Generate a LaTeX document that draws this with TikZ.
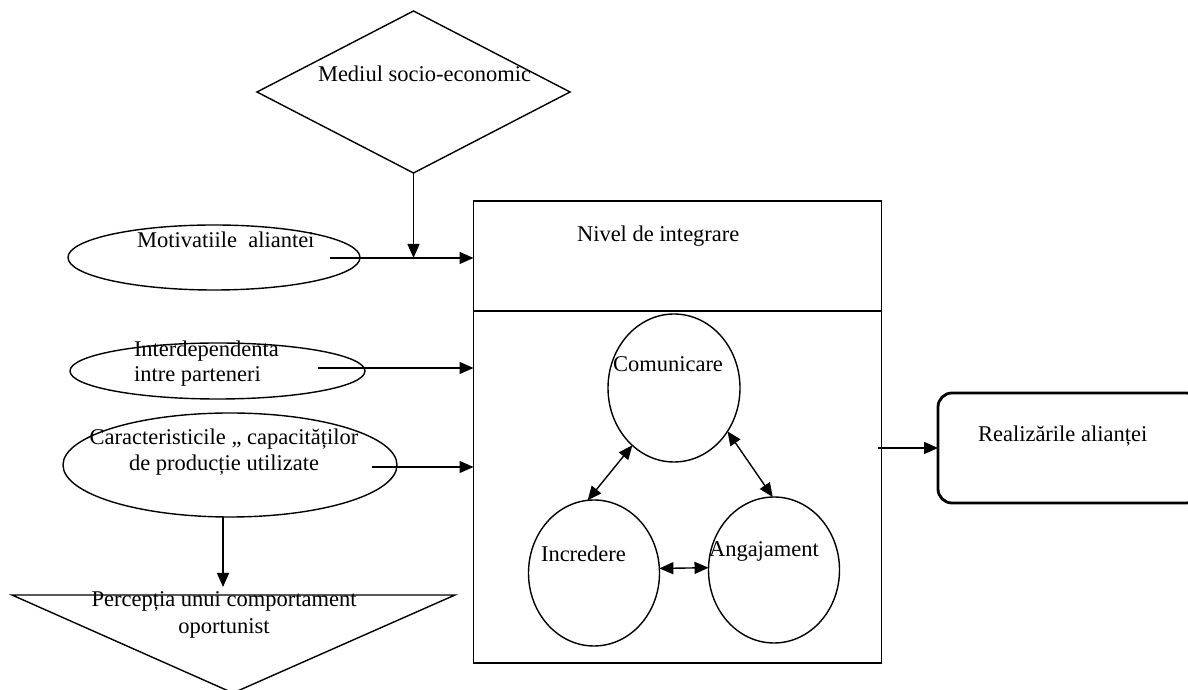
\documentclass[tikz,border=0pt]{standalone}
\usepackage{fontspec}
\setmainfont{Liberation Serif}
\usetikzlibrary{shapes.geometric,arrows.meta}
\begin{document}
\begin{tikzpicture}[x=1pt,y=1pt,
  every node/.style={inner sep=0pt,outer sep=0pt},
  lbl/.style={font=\fontsize{22.5}{27}\selectfont,anchor=base west},
  clbl/.style={font=\fontsize{22.5}{27}\selectfont,anchor=base},
  shp/.style={draw,line width=1.4pt},
  ell/.style={shp,ellipse},
  arr/.style={line width=1.4pt,-{Triangle[length=14pt,width=12pt]}},
  darr/.style={line width=1.4pt,{Triangle[length=14pt,width=12pt]}-{Triangle[length=14pt,width=12pt]}}]
\useasboundingbox (0,0) rectangle (1188,690);
% shapes
\node[shp,diamond,minimum width=313pt,minimum height=162pt] (diam) at (413.5,598) {};
\node[ell,minimum width=292pt,minimum height=65pt] (motiv) at (214,432.5) {};
\node[ell,minimum width=295pt,minimum height=56pt] (inter) at (217.5,319) {};
\node[ell,minimum width=334pt,minimum height=104pt] (carac) at (230,225) {};
\node[shp,rectangle,minimum width=408pt,minimum height=462pt] (box) at (677.5,258) {};
\coordinate (divL) at (473.5,379);
\coordinate (divR) at (881.5,379);
\draw[line width=1.4pt] (divL) -- (divR);
\node[ell,minimum width=132pt,minimum height=148pt] (com) at (674,302) {};
\node[ell,minimum width=131pt,minimum height=146pt] (inc) at (594,117) {};
\node[ell,minimum width=131pt,minimum height=146pt] (ang) at (774,120) {};
\node[draw,line width=2.8pt,rounded corners=14pt,minimum width=262pt,minimum height=110pt] (real) at (1069,242) {};
\coordinate (triL) at (12,95);
\coordinate (triR) at (455,95);
\coordinate (triB) at (233,-3);
\draw[line width=1.4pt] (triL) -- (triR) -- (triB) -- cycle;
% texts
\node[lbl] (tmed) at (318,608) {Mediul socio-economic};
\node[lbl] (tmot) at (137,442) {Motivatiile\ \ aliantei};
\node[lbl] (tint1) at (134,333) {Interdependenta};
\node[lbl] (tint2) at (134,308) {intre parteneri};
\node[clbl] (tcar1) at (224,245) {Caracteristicile ,, capacităților};
\node[clbl] (tcar2) at (224,219) {de producție utilizate};
\node[clbl] (tper1) at (224,83) {Percepția unui comportament};
\node[clbl] (tper2) at (224,56) {oportunist};
\node[lbl] (tniv) at (577,448) {Nivel de integrare};
\node[lbl] (tcom) at (613,318) {Comunicare};
\node[lbl] (tinc) at (541,128) {Incredere};
\node[lbl] (tang) at (709,133) {Angajament};
\node[lbl] (treal) at (978,248) {Realizările alianței};
% connectors
\coordinate (m1) at (330,432);
\coordinate (i1) at (318,322);
\coordinate (c1) at (372,223);
\coordinate (p1) at (223,103);
\coordinate (r1) at (878,242);
\draw[arr] (m1) -- (m1 -| box.west);
\draw[arr] (diam.south) -- (diam.south |- m1);
\draw[arr] (i1) -- (i1 -| box.west);
\draw[arr] (c1) -- (c1 -| box.west);
\draw[arr] (carac.south -| p1) -- (p1);
\draw[arr] (r1) -- (r1 -| real.west);
\draw[darr] (com.234) -- (inc.95);
\draw[darr] (com.321) -- (ang.91);
\draw[darr] (inc.4) -- (ang.178);
\end{tikzpicture}
\end{document}
